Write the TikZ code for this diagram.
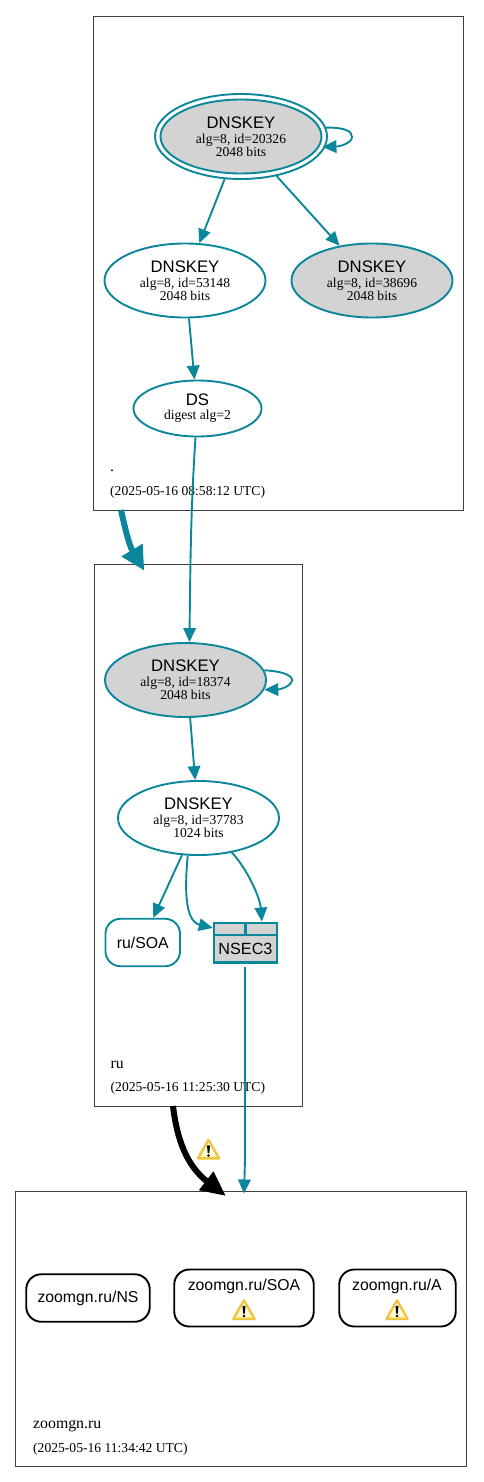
\documentclass[tikz,border=0pt]{standalone}
\usepackage{fontspec}
\setmainfont{Liberation Serif}
\newfontfamily\lsans{Liberation Sans}
\usetikzlibrary{arrows.meta,shapes.geometric}
\definecolor{dteal}{HTML}{0A879A}
\definecolor{dgray}{HTML}{D3D3D3}
\definecolor{wgold}{HTML}{EDC53F}
\definecolor{wpale}{HTML}{FFF7C0}
\newcommand{\keytext}[2]{{\lsans\fontsize{16.7}{15}\selectfont DNSKEY}\\[1.5pt]alg=8, id=#1\\#2 bits}
\tikzset{
  x=1pt,y=-1pt,
  zone/.style={draw=black!75,line width=0.7pt,inner sep=0,anchor=center},
  zonetext/.style={anchor=base west,inner sep=0,font=\fontsize{13.6}{14}\selectfont},
  zonename/.style={anchor=base west,inner sep=0,font=\fontsize{15.8}{16}\selectfont},
  keynode/.style={ellipse,draw=dteal,line width=1.9pt,inner sep=0,align=center,
    font=\fontsize{13.6}{13.2}\selectfont,minimum width=161,minimum height=74},
  shaded key/.style={keynode,fill=dgray},
  rrset/.style={rectangle,rounded corners=15pt,line width=1.9pt,inner sep=0,
    font=\lsans\fontsize{15.8}{16}\selectfont},
  sign/.style={draw=dteal,line width=1.9pt,-{Triangle[length=14pt,width=12.5pt]}},
  warnicon/.pic={
    \shade[top color=white,bottom color=wpale,draw=wgold,line width=2.4pt,line join=round] (0,-9.2) -- (10.6,9.4) -- (-10.6,9.4) -- cycle;
    \fill[black] (-1.5,-3.6) -- (1.5,-3.6) -- (0.8,4) -- (-0.8,4) -- cycle;
    \fill[black] (0,6.4) circle (1.35);
  },
}
\begin{document}
\begin{tikzpicture}
\useasboundingbox (0,0) rectangle (483,1482);
% zones
\node[zone,minimum width=370,minimum height=494] (zroot) at (278.6,263) {};
\node[zone,minimum width=208,minimum height=542] (zru) at (198.5,835) {};
\node[zone,minimum width=451,minimum height=275.5] (zzoom) at (241,1329) {};
\node[zonename] (lroot) at (110,471) {.};
\node[zonetext] (droot) at (110,495) {(2025-05-16 08:58:12 UTC)};
\node[zonename] (lru) at (110.5,1068) {ru};
\node[zonetext] (dru) at (110.5,1091) {(2025-05-16 11:25:30 UTC)};
\node[zonename] (lzoom) at (33,1428) {zoomgn.ru};
\node[zonetext] (dzoom) at (33,1452) {(2025-05-16 11:34:42 UTC)};
% keys
\node[keynode,minimum width=172,minimum height=85] (rootout) at (241,136.5) {};
\node[shaded key] (root) at (241,136.5) {\keytext{20326}{2048}};
\node[keynode] (k53148) at (185,280.5) {\keytext{53148}{2048}};
\node[shaded key] (k38696) at (372,280.5) {\keytext{38696}{2048}};
\node[keynode,minimum width=128,minimum height=56] (ds) at (197.5,408.5) {{\lsans\fontsize{16.7}{15}\selectfont DS}\\[1pt]digest alg=2};
\node[shaded key] (k18374) at (185.5,680) {\keytext{18374}{2048}};
\node[keynode] (k37783) at (198.5,818) {\keytext{37783}{1024}};
\node[rrset,draw=dteal,minimum width=74.5,minimum height=47.5] (rusoa) at (142.75,942.5) {ru/SOA};
% NSEC3
\node[rectangle,draw=dteal,fill=dgray,line width=2.5pt,minimum width=63,minimum height=39.5,inner sep=0] (nsec) at (245.5,942.5) {};
\node[inner sep=0,font=\lsans\fontsize{16.2}{16}\selectfont] (nsect) at (245.5,948.5) {NSEC3};
\draw[dteal,line width=2.5pt] (nsec.west |- 0,935) coordinate (nseca) -- (nsec.east |- 0,935) coordinate (nsecb);
\draw[dteal,line width=2.5pt] (nsec.north) ++(0,0) -- ++(0,13);
% zone rrsets
\node[rrset,draw=black,minimum width=123.5,minimum height=47.5] (zns) at (88,1298) {zoomgn.ru/NS};
\node[rrset,draw=black,minimum width=139.5,minimum height=57] (zsoa) at (244,1298) {};
\node[inner sep=0,font=\lsans\fontsize{15.8}{16}\selectfont] (zsoat) at (244,1286) {zoomgn.ru/SOA};
\node[rrset,draw=black,minimum width=116.5,minimum height=57] (za) at (397.5,1298) {};
\node[inner sep=0,font=\lsans\fontsize{15.8}{16}\selectfont] (zat) at (397,1286) {zoomgn.ru/A};
\pic at (244,1309.5) {warnicon};
\pic at (397,1309.5) {warnicon};
\pic at (208.5,1149) {warnicon};
% connectors
\draw[sign,shorten >=-3pt] (rootout.6.5) .. controls (345,127.5) and (352,131) .. (352,137) .. controls (352,143) and (340,146.5) .. (rootout.-7);
\draw[sign] (rootout.249) -- (k53148.69);
\draw[sign] (rootout.312) -- (k38696.133);
\draw[sign] (k53148.276) -- (ds.96);
\draw[sign] (ds.266) .. controls (191.5,500) and (190.5,540) .. (k18374.84);
\draw[sign] (k18374.7) .. controls (281,671) and (292,675) .. (292,680) .. controls (292,686) and (280,689.5) .. (k18374.-7);
\draw[sign] (k18374.277) -- (k37783.95);
\draw[sign] (k37783.246) -- (rusoa.67);
\draw[sign] (k37783.254.6) .. controls (185,885) and (184,921) .. (nsec.156);
\draw[sign] (k37783.314.6) .. controls (248,870) and (260,898) .. (nsec.52.7);
\coordinate (nsecout) at (245,967);
\coordinate (zzoomin) at (244,1193.5);
\draw[sign] (nsecout) -- (245,1160) -- (zzoomin);
\coordinate (zrootout) at (121,510);
\coordinate (zruin) at (144.3,570.7);
\coordinate (zruout) at (173,1106);
\coordinate (zzoomin2) at (226,1196);
\draw[dteal,line width=6pt,-{Triangle[length=24pt,width=23pt]}] (zrootout) .. controls (125,528) and (129,545) .. (zruin);
\draw[black,line width=6pt,-{Triangle[length=25pt,width=22pt]}] (zruout) .. controls (177,1140) and (187,1166) .. (zzoomin2);
\end{tikzpicture}
\end{document}
